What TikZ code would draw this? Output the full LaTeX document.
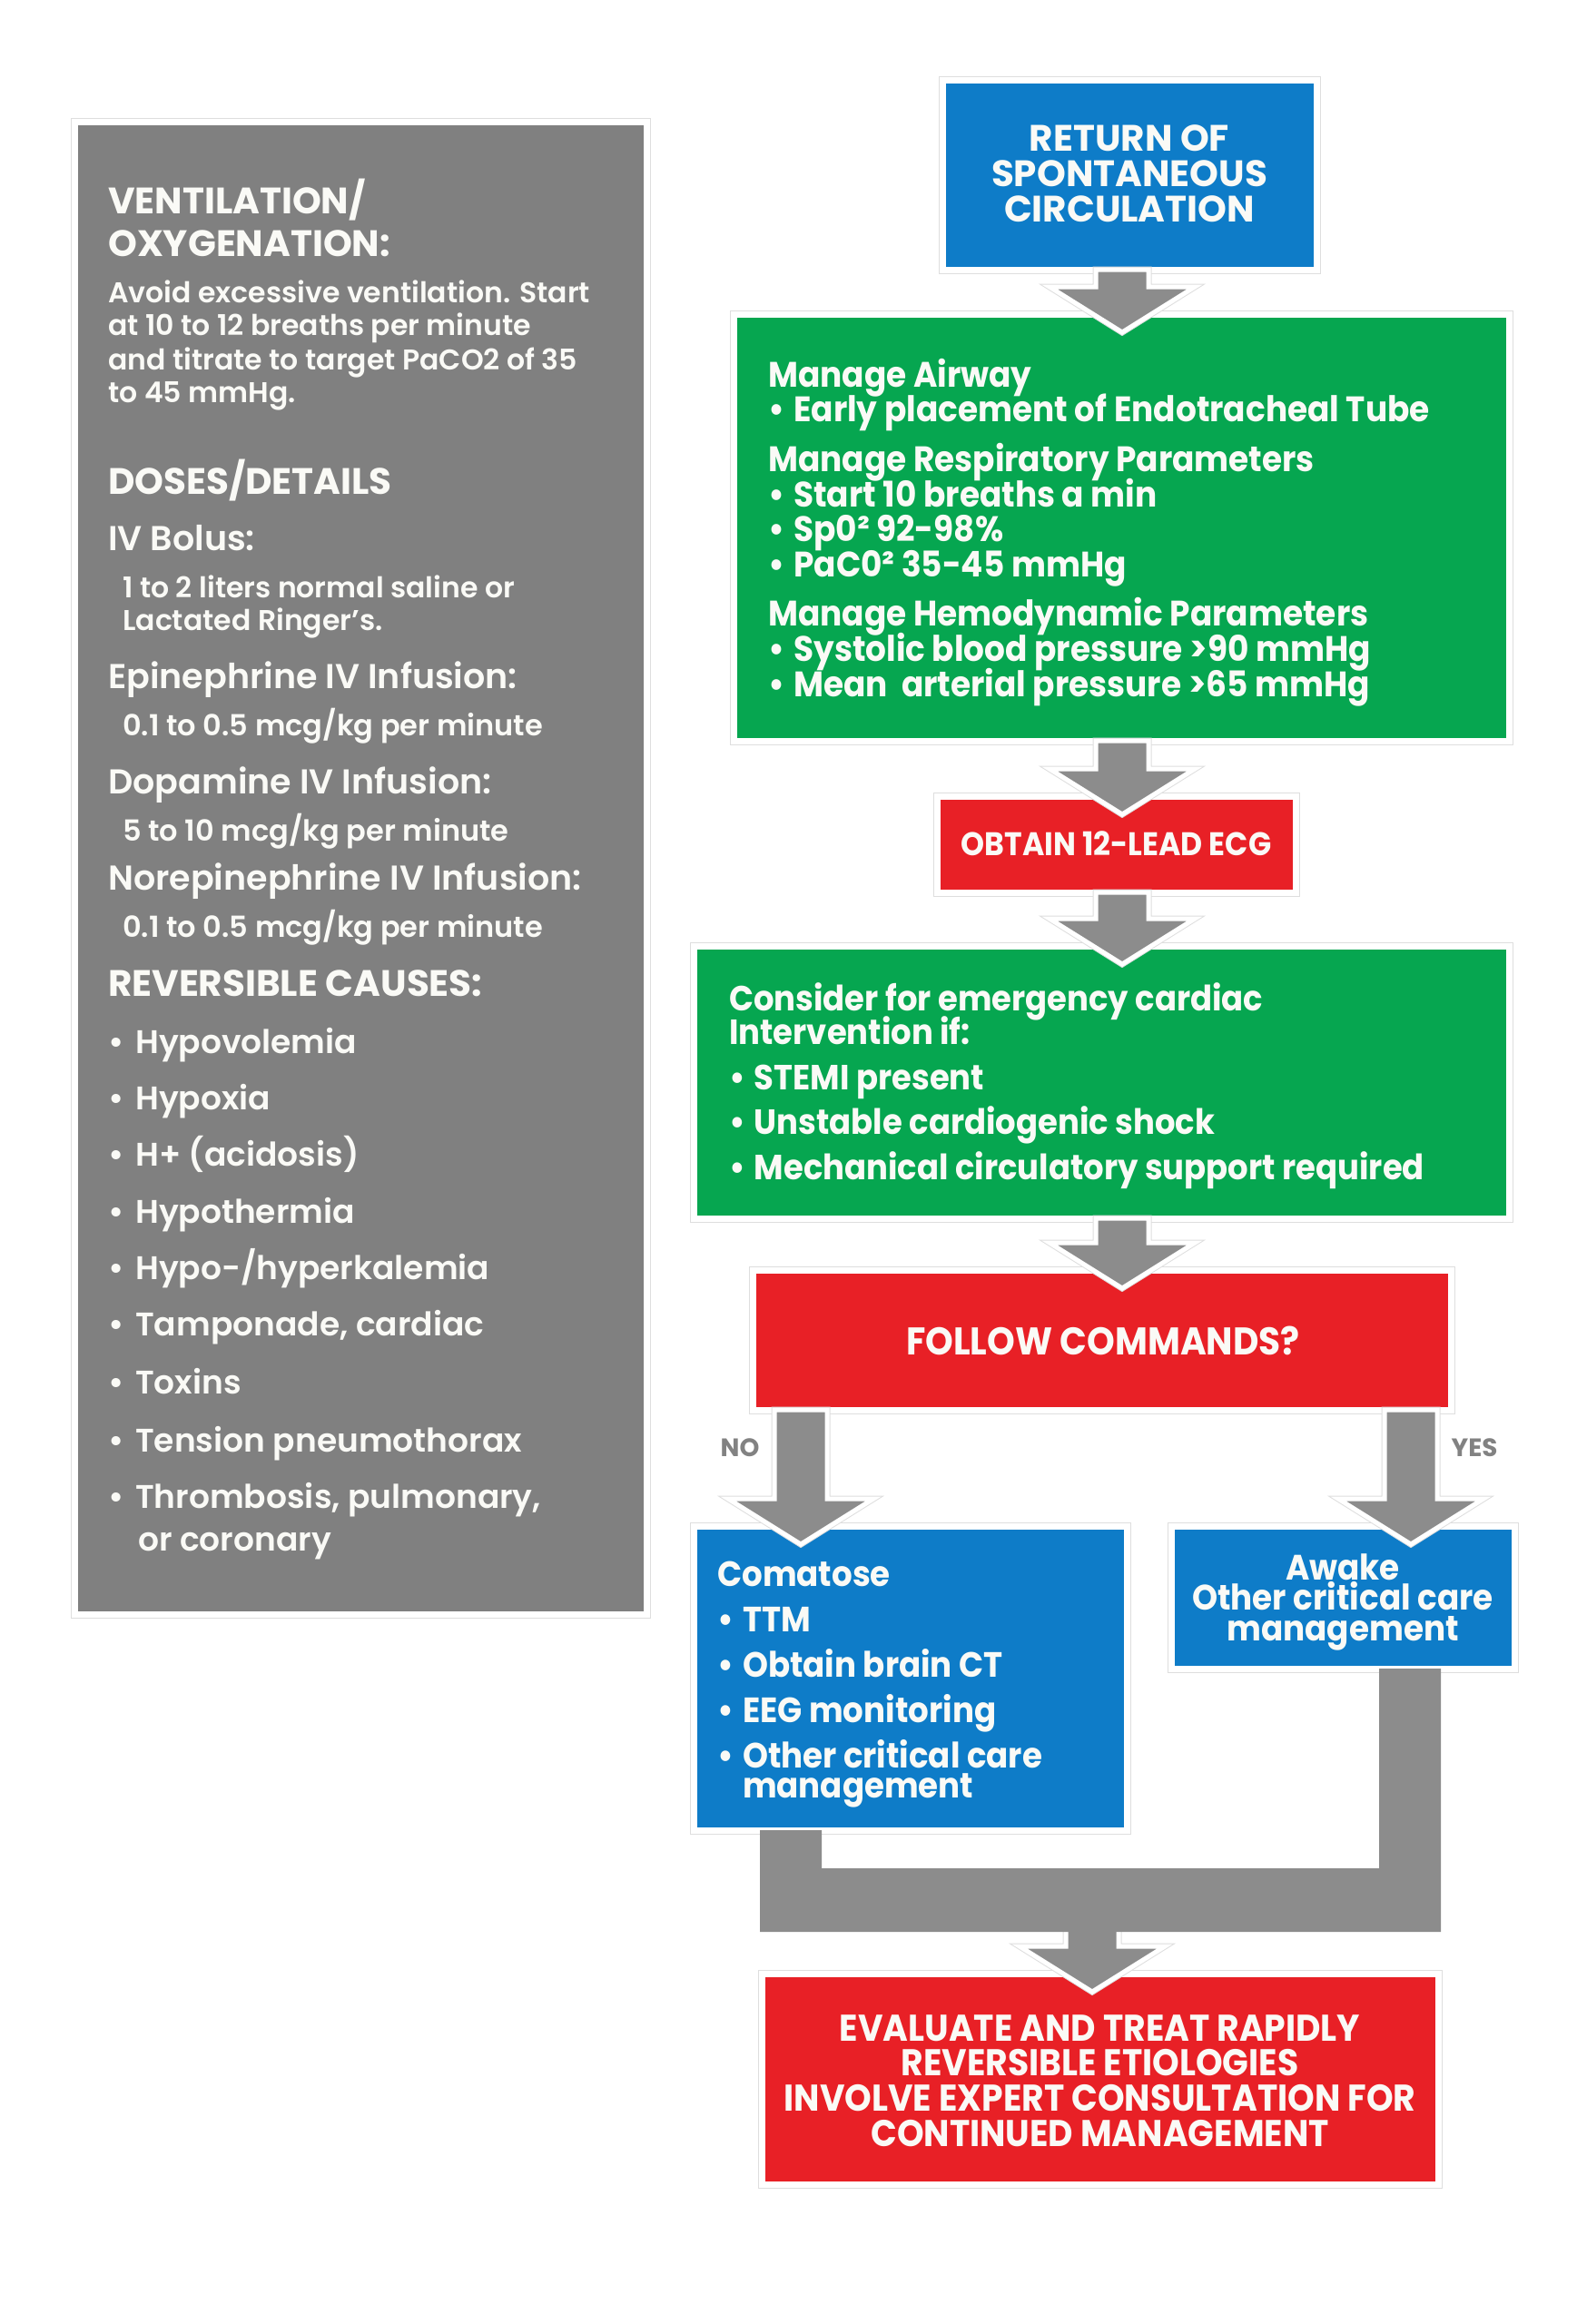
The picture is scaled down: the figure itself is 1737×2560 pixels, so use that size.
\documentclass[tikz,border=0pt]{standalone}
\usepackage{fontspec}
\setmainfont{Poppins}
\newfontfamily\fsb{Poppins}[UprightFont=* SemiBold]
\newfontfamily\fbd{Poppins}[UprightFont=* Bold]
\newfontfamily\fcn{Poppins}[UprightFont=* Bold, FakeStretch=0.92]
\usetikzlibrary{calc}
\definecolor{cblue}{RGB}{14,124,200}
\definecolor{cgreen}{RGB}{6,166,80}
\definecolor{cred}{RGB}{232,32,38}
\definecolor{cpanel}{RGB}{128,128,128}
\definecolor{carrow}{RGB}{140,140,140}
\definecolor{cedge}{RGB}{222,222,222}
\definecolor{ctxt}{RGB}{250,250,246}
\definecolor{clabel}{RGB}{130,130,130}
\newcommand\fs[2]{\fontsize{#1}{#2}\selectfont\lineskiplimit=-200pt\relax}
\newcommand\bu{\makebox[0.72em][l]{•}}
\newcommand\bi{\hspace*{0.72em}}
\newcommand\st{\rule{0pt}{1em}}
\def\sw{29}\def\hw{80}\def\hh{50}\def\tipo{20}
\newcommand\blockarrow[3]{%
  \draw[blk] ($(#1 -| #3)+(-\sw,0)$) -- ($(#2.north -| #3)+(-\sw,\tipo-\hh)$)
    -- ($(#2.north -| #3)+(-\hw,\tipo-\hh)$) -- ($(#2.north -| #3)+(0,\tipo)$)
    -- ($(#2.north -| #3)+(\hw,\tipo-\hh)$) -- ($(#2.north -| #3)+(\sw,\tipo-\hh)$)
    -- ($(#1 -| #3)+(\sw,0)$) -- cycle;}
\tikzset{
  box/.style={rectangle, draw=white, line width=7pt, outer sep=0pt, inner sep=0pt,
    preaction={draw=cedge, line width=9pt}},
  bluebox/.style={box, fill=cblue},
  greenbox/.style={box, fill=cgreen},
  redbox/.style={box, fill=cred},
  panelbox/.style={box, fill=cpanel},
  btext/.style={text=ctxt, inner sep=0pt},
  blk/.style={fill=carrow, draw=white, line width=5pt, line join=miter,
    preaction={draw=cedge, line width=7pt}},
  merge/.style={fill=carrow},
  ptext/.style={anchor=base west, text=ctxt, inner sep=0pt},
  ph/.style={ptext, font=\fbd\fs{40.5}{44}},
  pd/.style={ptext, font=\fsb\fs{38}{42}},
  pr/.style={ptext, font=\fsb\fs{36}{40}},
  pb/.style={ptext, font=\fsb\fs{31.5}{36}},
  ps/.style={ptext, font=\fsb\fs{32}{36}},
  lab/.style={text=clabel, font=\fbd\fs{27.8}{30}, inner sep=0pt}
}
\begin{document}
\begin{tikzpicture}[x=1pt,y=-1pt]
\path[use as bounding box, fill=white] (0,0) rectangle (1737,2560);

% left panel
\node[panelbox, minimum width=630, minimum height=1644] (panel) at (397,956) {};
\node[ph] (g1) at (119,235) {VENTILATION/};
\node[ph] (g2) at (119,282) {OXYGENATION:};
\node[pb] (g3) at (119,333) {Avoid excessive ventilation. Start};
\node[pb] (g4) at (119,369) {at 10 to 12 breaths per minute};
\node[pb] (g5) at (119,407) {and titrate to target PaCO2 of 35};
\node[pb] (g6) at (119,443) {to 45 mmHg.};
\node[ph] (g7) at (119,544) {DOSES/DETAILS};
\node[pd] (g8) at (119,606) {IV Bolus:};
\node[pb] (g9) at (135,658) {1 to 2 liters normal saline or};
\node[pb] (g10) at (135,694) {Lactated Ringer’s.};
\node[pd] (g11) at (119,758) {Epinephrine IV Infusion:};
\node[ps] (g12) at (135,810) {0.1 to 0.5 mcg/kg per minute};
\node[pd] (g13) at (119,874) {Dopamine IV Infusion:};
\node[ps] (g14) at (135,926) {5 to 10 mcg/kg per minute};
\node[pd] (g15) at (119,980) {Norepinephrine IV Infusion:};
\node[ps] (g16) at (135,1032) {0.1 to 0.5 mcg/kg per minute};
\node[ph] (g17) at (119,1097) {REVERSIBLE CAUSES:};
\foreach \yy/\tt [count=\i] in {1148/Hypovolemia,1210/Hypoxia,1272/H+ (acidosis),1335/Hypothermia,
  1397/{Hypo-/hyperkalemia},1459/{Tamponade, cardiac},1523/Toxins,1587/Tension pneumothorax,
  1649/{Thrombosis, pulmonary,}}{
  \node[pr] (rb\i) at (119,\yy+12) {\makebox[30pt][l]{•}\tt};
}
\node[pr] (rb10) at (152,1708) {or coronary};

% flowchart boxes
\node[bluebox, minimum width=412, minimum height=209] (rosc) at (1244,192.5) {};
\node[greenbox, minimum width=854, minimum height=470] (air) at (1235,581) {};
\node[redbox, minimum width=395, minimum height=106] (ecg) at (1229.5,930) {};
\node[greenbox, minimum width=898, minimum height=300] (cath) at (1213,1192) {};
\node[redbox, minimum width=769, minimum height=154] (follow) at (1213.5,1476) {};
\node[bluebox, minimum width=477, minimum height=335] (coma) at (1002.5,1848.5) {};
\node[bluebox, minimum width=378, minimum height=157] (awake) at (1479,1759.5) {};
\node[redbox, minimum width=745, minimum height=232] (final) at (1211.5,2290) {};

% box texts (first baseline = y + font size)
\node[btext, anchor=north, align=center, font=\fbd\fs{40.5}{39}] (rosct)
  at (1244,166-40.5) {\st RETURN OF\\SPONTANEOUS\\CIRCULATION};
\node[btext, anchor=north west, align=left, font=\fcn\fs{39}{38.6}] (airt)
  at (846,426-39) {\st Manage Airway\\
  \bu Early placement of Endotracheal Tube\\[16pt]
  Manage Respiratory Parameters\\
  \bu Start 10 breaths a min\\
  \bu Sp0² 92-98\%\\
  \bu PaC0² 35-45 mmHg\\[16pt]
  Manage Hemodynamic Parameters\\
  \bu Systolic blood pressure >90 mmHg\\
  \bu Mean\ \ arterial pressure >65 mmHg};
\node[btext, anchor=north, font=\fcn\fs{36}{38}] (ecgt)
  at (1229.5,942-36) {\st OBTAIN 12-LEAD ECG};
\node[btext, anchor=north west, align=left, font=\fcn\fs{38.5}{37.5}] (catht)
  at (803,1113-38.5) {\st Consider for emergency cardiac\\
  Intervention if:\\[12pt]
  \bu STEMI present\\[12pt]
  \bu Unstable cardiogenic shock\\[12pt]
  \bu Mechanical circulatory support required};
\node[btext, anchor=north, font=\fcn\fs{42.5}{44}] (followt)
  at (1215,1492-42.5) {\st FOLLOW COMMANDS?};
\node[btext, anchor=north west, align=left, font=\fcn\fs{38.7}{33}] (comat)
  at (790,1747-38.7) {\st Comatose\\[17pt]
  \bu TTM\\[17pt]
  \bu Obtain brain CT\\[17pt]
  \bu EEG monitoring\\[17pt]
  \bu Other critical care\\
  \bi management};
\node[btext, anchor=north, align=center, font=\fcn\fs{38.9}{33.5}] (awaket)
  at (1479,1740-38.9) {\st Awake\\Other critical care\\management};
\node[btext, anchor=north, align=center, font=\fcn\fs{41}{38.6}] (finalt)
  at (1211.5,2248-41) {\st EVALUATE AND TREAT RAPIDLY\\
  REVERSIBLE ETIOLOGIES\\INVOLVE EXPERT CONSULTATION FOR\\CONTINUED MANAGEMENT};

% labels
\node[lab] (no) at (815,1595) {NO};
\node[lab] (yes) at (1624,1595) {YES};

% connectors
\coordinate (col) at (1236,0);
\coordinate (cno) at (882,0);
\coordinate (cyes) at (1554,0);
\coordinate (cfin) at (1203,0);
\coordinate (mL) at (871,0);
\coordinate (mR) at (1553,0);
\coordinate (bt) at (0,2058);
\coordinate (bb) at (0,2128);
\coordinate (mb) at (1203,2118);

\blockarrow{rosc.south}{air}{col}
\blockarrow{air.south}{ecg}{col}
\blockarrow{ecg.south}{cath}{col}
\blockarrow{cath.south}{follow}{col}
\blockarrow{follow.south}{coma}{cno}
\blockarrow{follow.south}{awake}{cyes}
\blockarrow{mb}{final}{cfin}
\fill[merge] ($(coma.south -| mL)+(-34,0)$) -- ($(mL |- bb)+(-34,0)$) -- ($(mR |- bb)+(34,0)$)
  -- ($(awake.south -| mR)+(34,0)$) -- ($(awake.south -| mR)+(-34,0)$)
  -- ($(mR |- bt)+(-34,0)$) -- ($(mL |- bt)+(34,0)$) -- ($(coma.south -| mL)+(34,0)$) -- cycle;
\end{tikzpicture}
\end{document}
